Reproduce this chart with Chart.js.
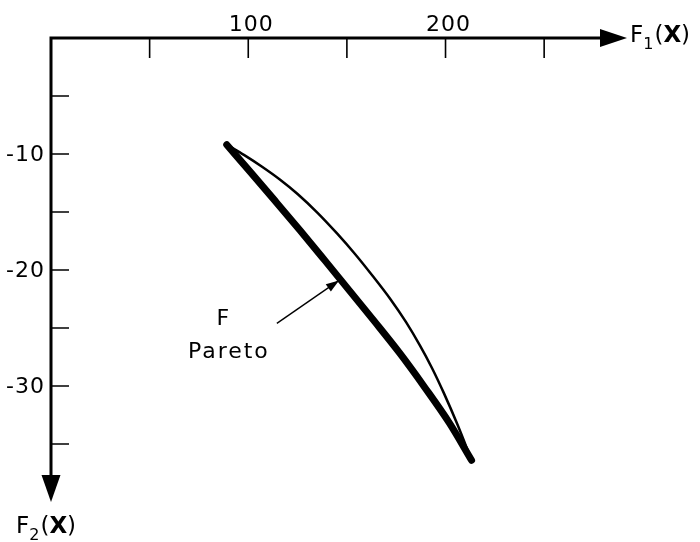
<!DOCTYPE html>
<html>
<head>
<meta charset="utf-8">
<script src="https://cdn.jsdelivr.net/npm/chart.js@4.4.1/dist/chart.umd.min.js"></script>
<style>
  body { margin: 0; background: #fff; }
  #wrap { width: 700px; height: 542px; }
</style>
</head>
<body>
<div id="wrap"><canvas id="chartPareto"></canvas></div>
<script>
// eixos
const xMax = 292;
const yMin = -40;
const xTicks = [50, 100, 150, 200, 250];
const xTickLabels = [100, 200];
const yTicks = [-5, -10, -15, -20, -25, -30, -35];
const yTickLabels = [-10, -20, -30];

// fronteira de Pareto (linha grossa)
const paretoF1 = [89.1, 100.8, 113.4, 126.1, 138.7, 151.4, 164.1, 176.7, 189.4, 202.0, 213.2];
const paretoF2 = [-9.2, -11.5, -14.0, -16.55, -19.15, -21.8, -24.45, -27.15, -30.1, -33.2, -36.4];

// contorno superior do conjunto (linha fina)
const boundF1 = [89.1, 98, 107, 116, 125, 135, 145, 154, 163, 172, 180, 187, 193, 199, 206, 213.2];
const boundF2 = [-9.2, -10.1, -11.1, -12.2, -13.45, -15.05, -16.85, -18.6, -20.5, -22.5, -24.5, -26.5, -28.4, -30.55, -33.3, -36.4];

// seta do rótulo
const labelArrowFrom = [114.5, -24.6];
const labelArrowTo = [146, -20.9];

const FONT = "'DejaVu Sans', sans-serif";

const toPoints = (xs, ys) => xs.map((x, i) => ({ x: x, y: ys[i] }));

function drawArrowHead(ctx, x, y, angle, len, half) {
    ctx.save();
    ctx.translate(x, y);
    ctx.rotate(angle);
    ctx.beginPath();
    ctx.moveTo(0, 0);
    ctx.lineTo(-len, -half);
    ctx.lineTo(-len, half);
    ctx.closePath();
    ctx.fill();
    ctx.restore();
}

// desenha "F", índice e "(X)" com X em negrito
function drawAxisTitle(ctx, x, y, sub) {
    ctx.save();
    ctx.textBaseline = 'alphabetic';
    ctx.textAlign = 'left';
    ctx.font = '23px ' + FONT;
    ctx.fillText('F', x, y);
    x += ctx.measureText('F').width;
    ctx.font = '16px ' + FONT;
    ctx.fillText(sub, x, y + 7);
    x += ctx.measureText(sub).width + 1;
    ctx.font = '23px ' + FONT;
    ctx.fillText('(', x, y);
    x += ctx.measureText('(').width;
    ctx.font = 'bold 23px ' + FONT;
    ctx.fillText('X', x, y);
    x += ctx.measureText('X').width;
    ctx.font = '23px ' + FONT;
    ctx.fillText(')', x, y);
    ctx.restore();
}

const axesPlugin = {
    id: 'eixosSeta',
    afterDraw(chart) {
        const ctx = chart.ctx;
        const sx = chart.scales.x;
        const sy = chart.scales.y;
        const x0 = sx.getPixelForValue(0);
        const y0 = sy.getPixelForValue(0);
        const xEnd = sx.getPixelForValue(xMax);
        const yEnd = sy.getPixelForValue(yMin);

        ctx.save();
        ctx.strokeStyle = '#000';
        ctx.fillStyle = '#000';
        ctx.lineCap = 'square';

        // eixos
        ctx.lineWidth = 3;
        ctx.beginPath();
        ctx.moveTo(xEnd - 20, y0);
        ctx.lineTo(x0, y0);
        ctx.lineTo(x0, yEnd - 20);
        ctx.stroke();
        drawArrowHead(ctx, xEnd, y0, 0, 27, 9);
        drawArrowHead(ctx, x0, yEnd, Math.PI / 2, 27, 9.5);

        // marcas
        ctx.lineWidth = 1.6;
        ctx.lineCap = 'butt';
        ctx.beginPath();
        xTicks.forEach(v => {
            const px = sx.getPixelForValue(v);
            ctx.moveTo(px, y0);
            ctx.lineTo(px, y0 + 20);
        });
        yTicks.forEach(v => {
            const py = sy.getPixelForValue(v);
            ctx.moveTo(x0, py);
            ctx.lineTo(x0 + 18, py);
        });
        ctx.stroke();

        // rótulos das marcas
        ctx.font = '22px ' + FONT;
        ctx.textAlign = 'center';
        ctx.textBaseline = 'alphabetic';
        ctx.letterSpacing = '1px';
        xTickLabels.forEach(v => {
            ctx.fillText(String(v), sx.getPixelForValue(v) + 3, y0 - 7);
        });
        ctx.textAlign = 'right';
        ctx.textBaseline = 'middle';
        yTickLabels.forEach(v => {
            ctx.fillText('-' + Math.abs(v), x0 - 6, sy.getPixelForValue(v) + 1);
        });
        ctx.letterSpacing = '0px';

        // títulos dos eixos
        drawAxisTitle(ctx, xEnd + 3, y0 + 4, '1');
        drawAxisTitle(ctx, x0 - 35, yEnd + 31, '2');

        // rótulo F Pareto com seta
        const ax = sx.getPixelForValue(labelArrowFrom[0]);
        const ay = sy.getPixelForValue(labelArrowFrom[1]);
        const bx = sx.getPixelForValue(labelArrowTo[0]);
        const by = sy.getPixelForValue(labelArrowTo[1]);
        ctx.lineWidth = 1.4;
        ctx.beginPath();
        ctx.moveTo(ax, ay);
        ctx.lineTo(bx, by);
        ctx.stroke();
        drawArrowHead(ctx, bx, by, Math.atan2(by - ay, bx - ax), 13, 4.5);

        ctx.font = '22px ' + FONT;
        ctx.textAlign = 'center';
        ctx.textBaseline = 'alphabetic';
        ctx.fillText('F', ax - 54, ay + 2);
        ctx.letterSpacing = '2px';
        ctx.fillText('Pareto', ax - 48, ay + 35);
        ctx.restore();
    }
};

document.addEventListener('DOMContentLoaded', () => {
    const ctx = document.getElementById('chartPareto');
    new Chart(ctx, {
        type: 'scatter',
        data: {
            datasets: [{
                label: 'Contorno',
                data: toPoints(boundF1, boundF2),
                showLine: true,
                borderColor: '#000',
                borderWidth: 2.5,
                pointRadius: 0,
                cubicInterpolationMode: 'monotone'
            }, {
                label: 'F Pareto',
                data: toPoints(paretoF1, paretoF2),
                showLine: true,
                borderColor: '#000',
                borderWidth: 7,
                borderCapStyle: 'round',
                pointRadius: 0,
                cubicInterpolationMode: 'monotone'
            }]
        },
        options: {
            responsive: true,
            maintainAspectRatio: false,
            animation: false,
            layout: { padding: { left: 51, top: 38, right: 73, bottom: 40 } },
            plugins: { legend: { display: false }, tooltip: { enabled: false } },
            scales: {
                x: { type: 'linear', min: 0, max: xMax, display: false },
                y: { type: 'linear', min: yMin, max: 0, display: false }
            }
        },
        plugins: [axesPlugin]
    });
});
</script>
</body>
</html>
